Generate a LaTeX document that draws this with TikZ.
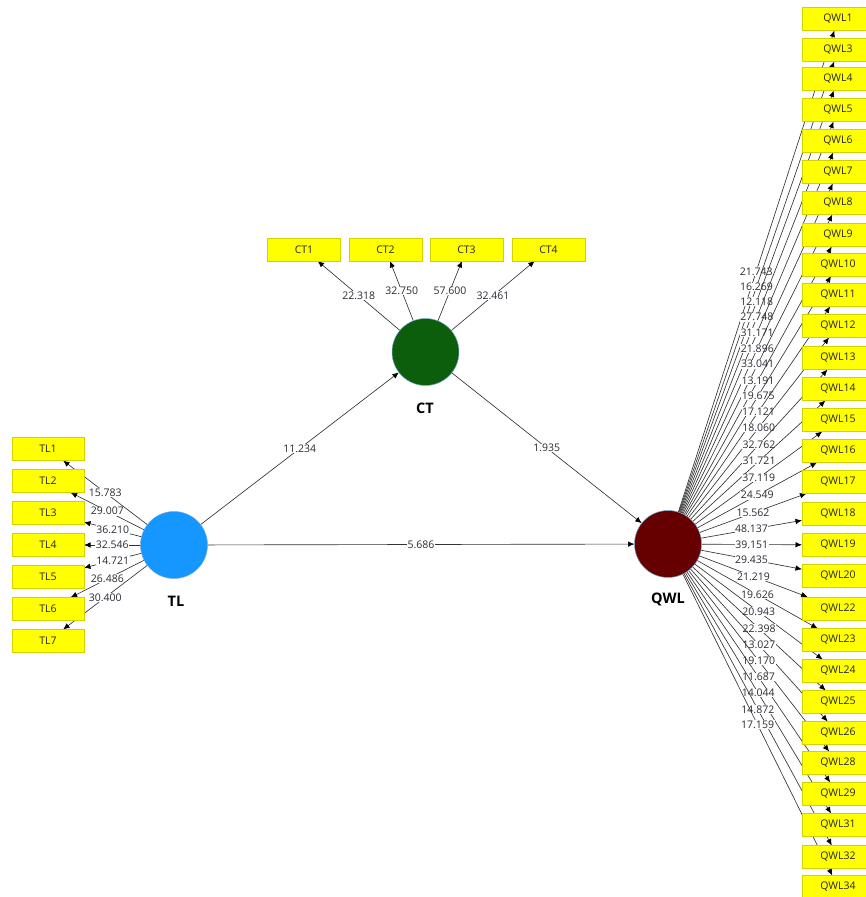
\documentclass[tikz,border=0pt]{standalone}
\usepackage{fontspec}
\setmainfont{Open Sans}
\usetikzlibrary{arrows.meta}
\pgfdeclarelayer{bg}
\pgfsetlayers{bg,main}
\definecolor{boxyellow}{RGB}{255,255,0}
\definecolor{boxedge}{RGB}{210,210,0}
\definecolor{tlblue}{RGB}{22,150,255}
\definecolor{ctgreen}{RGB}{12,94,12}
\definecolor{qwlred}{RGB}{102,0,0}
\definecolor{labgray}{RGB}{40,44,52}
\definecolor{ringblue}{RGB}{120,170,210}
\begin{document}
\begin{tikzpicture}[x=1pt,y=-1pt,
  ind/.style={rectangle, fill=boxyellow, draw=boxedge, line width=0.7pt,
    minimum width=72pt, minimum height=23pt, inner sep=0pt, outer sep=0pt,
    text=black!85, font=\fontsize{10.5}{12}\selectfont},
  lat/.style={circle, minimum size=67pt, inner sep=0pt, outer sep=0pt,
    draw=ringblue, line width=0.5pt},
  latlab/.style={font=\bfseries\fontsize{14.5}{16}\selectfont},
  conn/.style={draw=black!80, line width=0.65pt, -{Latex[length=6.5pt,width=5.5pt,black]}},
  val/.style={midway, fill=white, inner sep=0.5pt, text=labgray,
    font=\fontsize{10.5}{12}\selectfont}
]
\useasboundingbox (0,0) rectangle (866,897);

% latent variables
\node[lat, fill=ctgreen] (CT) at (425.5,352) {};
\node[lat, fill=tlblue] (TL) at (174,545) {};
\node[lat, fill=qwlred] (QWL) at (668,544) {};
\node[latlab] (CTl) at (425,408) {CT};
\node[latlab] (TLl) at (176,601) {TL};
\node[latlab] (QWLl) at (668,599) {QWL};

% CT indicators
\foreach \n/\x in {1/304,2/385.5,3/466.5,4/548.5}
  \node[ind, minimum width=73pt] (c\n) at (\x,249.5) {CT\n};

% TL indicators
\foreach \n/\y in {1/449,2/481,3/513,4/545,5/577,6/609,7/641}
  \node[ind] (t\n) at (48,\y) {TL\n};

% QWL indicators
\foreach \n/\y in {1/19,3/50,4/79,5/110,6/141,7/172,8/203,9/235,10/264.5,11/295,
  12/326,13/358,14/389,15/420,16/451,17/482,18/514,19/545,20/576,22/608.5,
  23/640,24/671,25/702,26/733,28/763,29/794,31/825,32/857,34/887}
  \node[ind] (q\n) at (838,\y) {QWL\n};

\begin{pgfonlayer}{bg}
  \draw[conn] (TL) -- (CT) node[val] {11.234};
  \draw[conn] (TL) -- (QWL) node[val] {5.686};
  \draw[conn] (CT) -- (QWL) node[val] {1.935};
  \foreach \n/\v in {1/22.318,2/32.750,3/57.600,4/32.461}
    \draw[conn] (CT) -- (c\n) node[val] {\v};
  \foreach \n/\v in {1/15.783,2/29.007,3/36.210,4/32.546,5/14.721,6/26.486,7/30.400}
    \draw[conn] (TL) -- (t\n) node[val] {\v};
  \foreach \n/\v in {1/21.743,3/16.269,4/12.118,5/27.748,6/31.171,7/21.896,8/33.041,
    9/13.191,10/19.675,11/17.121,12/18.060,13/32.762,14/31.721,15/37.119,16/24.549,
    17/15.562,18/48.137,19/39.151,20/29.435,22/21.219,23/19.626,24/20.943,25/22.398,
    26/13.027,28/19.170,29/11.687,31/14.044,32/14.872,34/17.159}
    \draw[conn] (QWL) -- (q\n) node[val] {\v};
\end{pgfonlayer}
\end{tikzpicture}
\end{document}
